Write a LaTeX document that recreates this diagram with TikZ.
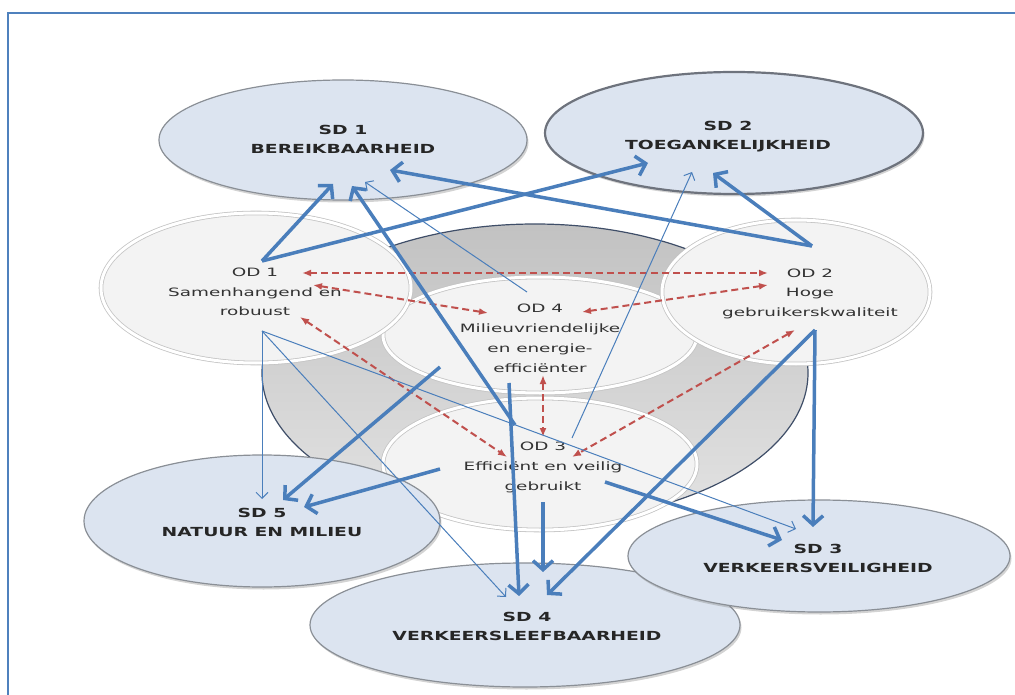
\documentclass[tikz,border=0pt]{standalone}
\usepackage{fontspec}
\setmainfont{DejaVu Sans}
\usetikzlibrary{arrows.meta,shapes.geometric,shadows}
\definecolor{arrblue}{HTML}{4A7EBB}
\definecolor{arrred}{HTML}{C0504D}
\definecolor{sdfill}{HTML}{DCE4F0}
\definecolor{sdline}{HTML}{8A8F96}
\definecolor{sd2line}{HTML}{6E737D}
\definecolor{odfill}{HTML}{F3F3F3}
\definecolor{odline}{HTML}{C4C4C4}
\definecolor{ringdark}{HTML}{3F4E68}
\definecolor{framec}{HTML}{4F81BD}
\newcommand{\sdtxt}[1]{\scalebox{1.5}[1]{\begin{tabular}{@{}c@{}}#1\end{tabular}}}
\newcommand{\odtxt}[1]{\scalebox{1.6}[1]{\begin{tabular}{@{}c@{}}#1\end{tabular}}}
\tikzset{
  sdshape/.style={ellipse, fill=sdfill, draw=sdline, line width=1.2pt, inner sep=0pt,
    drop shadow={shadow xshift=1.5pt, shadow yshift=-2.5pt, opacity=0.35, fill=gray}},
  odshape/.style={ellipse, fill=odfill, draw=odline, line width=0.8pt, double=white,
    double distance=3pt, inner sep=0pt},
  sdlabel/.style={inner sep=0pt, font=\fontsize{12.5}{19.5}\selectfont\bfseries, text=black!85},
  odlabel/.style={inner sep=0pt, font=\fontsize{11.5}{20}\selectfont, text=black!80},
  bluethick/.style={draw=arrblue, line width=3.5pt, -{Straight Barb[length=9pt,width=20pt]}},
  bluethin/.style={draw=arrblue, line width=1pt, -{Straight Barb[length=6pt,width=12pt]}},
  reddash/.style={draw=arrred, line width=2pt, dash pattern=on 7pt off 4pt,
    {Latex[length=9pt,width=7pt]}-{Latex[length=9pt,width=7pt]}},
}
\begin{document}
\begin{tikzpicture}[x=1pt,y=-1pt]
\useasboundingbox (0,0) rectangle (1015,695);
% frame
\draw[framec, line width=2pt] (8,695) -- (8,13) -- (1015,13);
% grey ring background
\node[ellipse, minimum width=546pt, minimum height=298pt, inner sep=0pt,
      draw=ringdark, line width=1.2pt, top color=gray!48, bottom color=gray!22] (ring) at (535,373) {};
% goal ellipses (top)
\node[sdshape, minimum width=368pt, minimum height=120pt] (sd1) at (343,140) {};
\node[sdshape, minimum width=378pt, minimum height=122pt, draw=sd2line, line width=2.2pt] (sd2) at (734,133) {};
% OD circles
\node[odshape, minimum width=314pt, minimum height=116pt] (od4) at (540,335) {};
\node[odshape, minimum width=314pt, minimum height=132pt] (od3) at (540,464) {};
\node[odshape, minimum width=310pt, minimum height=150pt] (od1) at (256,288) {};
\node[odshape, minimum width=268pt, minimum height=144pt] (od2) at (796,292) {};
% goal ellipses (bottom)
\node[sdshape, minimum width=430pt, minimum height=124pt] (sd4) at (525,625) {};
\node[sdshape, minimum width=382pt, minimum height=112pt] (sd3) at (819,556) {};
\node[sdshape, minimum width=356pt, minimum height=132pt] (sd5) at (262,521) {};
% labels
\node[sdlabel] (sd1t) at (343,140) {\sdtxt{SD 1\\BEREIKBAARHEID}};
\node[sdlabel] (sd2t) at (728,136) {\sdtxt{SD 2\\TOEGANKELIJKHEID}};
\node[sdlabel] (sd3t) at (818,559) {\sdtxt{SD 3\\VERKEERSVEILIGHEID}};
\node[sdlabel] (sd4t) at (527,627) {\sdtxt{SD 4\\VERKEERSLEEFBAARHEID}};
\node[sdlabel] (sd5t) at (262,523) {\sdtxt{SD 5\\NATUUR EN MILIEU}};
\node[odlabel] (od1t) at (255,292) {\odtxt{OD 1\\Samenhangend en\\robuust}};
\node[odlabel] (od2t) at (810,293) {\odtxt{OD 2\\Hoge\\gebruikerskwaliteit}};
\node[odlabel] (od4t) at (540,338) {\odtxt{OD 4\\Milieuvriendelijke\\en energie-\\efficiënter}};
\node[odlabel] (od3t) at (543,466) {\odtxt{OD 3\\Efficiënt en veilig\\gebruikt}};
% connector end points
\coordinate (od1up) at (262,261);
\coordinate (od1dn) at (262,331);
\coordinate (od2up) at (812,246);
\coordinate (od2dn) at (815,330);
\coordinate (od3up) at (515,425);
\coordinate (od3ur) at (572,438);
\coordinate (od3lf) at (440,469);
\coordinate (od3rt) at (605,482);
\coordinate (od3dn) at (543,502);
\coordinate (od4ul) at (527,292);
\coordinate (od4ll) at (440,367);
\coordinate (od4dn) at (509,383);
\coordinate (sd1a) at (333,184);
\coordinate (sd1b) at (352,186);
\coordinate (sd1c) at (365,182);
\coordinate (sd1d) at (390,170);
\coordinate (sd2a) at (648,163);
\coordinate (sd2b) at (692,172);
\coordinate (sd2c) at (713,173);
\coordinate (sd3a) at (782,540);
\coordinate (sd3b) at (796,529);
\coordinate (sd3c) at (813,527);
\coordinate (sd4a) at (506,597);
\coordinate (sd4b) at (519,596);
\coordinate (sd4c) at (543,572);
\coordinate (sd4d) at (547,595);
\coordinate (sd5a) at (262,499);
\coordinate (sd5b) at (283,500);
\coordinate (sd5c) at (304,507);
% red dashed links
\coordinate (r1a) at (302,273); \coordinate (r1b) at (768,273);
\coordinate (r2a) at (313,285); \coordinate (r2b) at (488,313);
\coordinate (r3a) at (768,285); \coordinate (r3b) at (582,312);
\coordinate (r4a) at (300,317); \coordinate (r4b) at (507,457);
\coordinate (r5a) at (543,375); \coordinate (r5b) at (543,437);
\coordinate (r6a) at (795,330); \coordinate (r6b) at (572,457);
\draw[reddash] (r1a) -- (r1b);
\draw[reddash] (r2a) -- (r2b);
\draw[reddash] (r3a) -- (r3b);
\draw[reddash] (r4a) -- (r4b);
\draw[reddash] (r5a) -- (r5b);
\draw[reddash] (r6a) -- (r6b);
% thin blue
\draw[bluethin] (od1dn) -- (sd5a);
\draw[bluethin] (od1dn) -- (sd4a);
\draw[bluethin] (od1dn) -- (sd3b);
\draw[bluethin] (od4ul) -- (sd1c);
\draw[bluethin] (od3ur) -- (sd2b);
% thick blue
\draw[bluethick] (od1up) -- (sd1a);
\draw[bluethick] (od1up) -- (sd2a);
\draw[bluethick] (od2up) -- (sd1d);
\draw[bluethick] (od2up) -- (sd2c);
\draw[bluethick] (od3up) -- (sd1b);
\draw[bluethick] (od4dn) -- (sd4b);
\draw[bluethick] (od3dn) -- (sd4c);
\draw[bluethick] (od2dn) -- (sd4d);
\draw[bluethick] (od2dn) -- (sd3c);
\draw[bluethick] (od4ll) -- (sd5b);
\draw[bluethick] (od3lf) -- (sd5c);
\draw[bluethick] (od3rt) -- (sd3a);
\end{tikzpicture}
\end{document}
